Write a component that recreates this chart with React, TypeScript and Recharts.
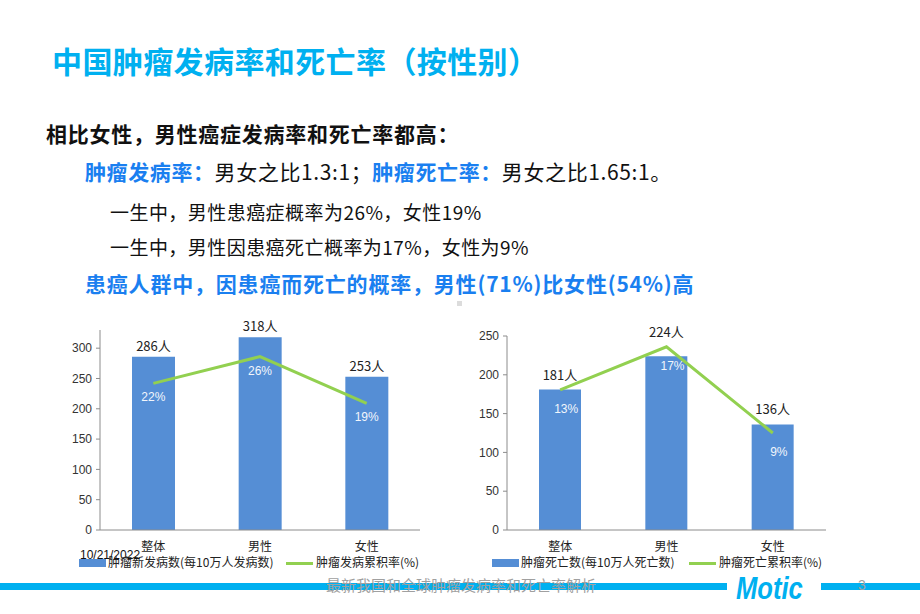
import { ComposedChart, Bar, Line, XAxis, YAxis, LabelList } from "recharts";

const categories = ["整体", "男性", "女性"];
const incidenceCounts = [286, 318, 253];
const incidenceRates = [22, 26, 19];
const deathCounts = [181, 224, 136];
const deathRates = [13, 17, 9];
const incidenceTicks = [0, 50, 100, 150, 200, 250, 300];
const deathTicks = [0, 50, 100, 150, 200, 250];

const CYAN = "#00b0f0";
const BLUE = "#1a7ff0";
const BAR = "#558ed5";
const GREEN = "#92d050";
const LATIN = '"Liberation Sans", "Noto Sans CJK SC", sans-serif';
const CJK = '"Noto Sans CJK SC", "Liberation Sans", sans-serif';

interface Row {
  name: string;
  count: number;
  rate: number;
}

const incidenceData: Row[] = categories.map((name, i) => ({
  name,
  count: incidenceCounts[i],
  rate: incidenceRates[i],
}));
const deathData: Row[] = categories.map((name, i) => ({
  name,
  count: deathCounts[i],
  rate: deathRates[i],
}));

interface ChartProps {
  data: Row[];
  countMax: number;
  rateMax: number;
  ticks: number[];
  barSize: number;
  width: number;
  height: number;
  margin: { top: number; right: number; bottom: number; left: number };
  labelGap: number;
  rateDx: number;
  rateDy: number;
}

const SexChart = ({ data, countMax, rateMax, ticks, barSize, width, height, margin, labelGap, rateDx, rateDy }: ChartProps) => {
  // count label sits above whichever is higher: the bar top or the line point
  const countLabel = (props: any) => {
    const { x, y, width: w, height: h, value, index } = props;
    const perUnit = h / value;
    const lineY = y + h - data[index].rate * (countMax / rateMax) * perUnit;
    const top = Math.min(y, lineY);
    return (
      <text x={x + w / 2} y={top - labelGap} textAnchor="middle" fontSize={13} fill="#222" fontFamily={CJK}>
        {value}人
      </text>
    );
  };

  const rateLabel = (props: any) => {
    const { x, y, value } = props;
    return (
      <text x={x + rateDx} y={y + rateDy} textAnchor="middle" fontSize={12} fill="#f2f6fc" fontFamily={LATIN}>
        {value}%
      </text>
    );
  };

  return (
    <ComposedChart width={width} height={height} data={data} margin={margin}>
      <XAxis
        dataKey="name"
        tickLine={false}
        tickSize={0}
        tickMargin={12}
        height={24}
        axisLine={{ stroke: "#8c8c8c" }}
        tick={{ fontSize: 12, fill: "#222", fontFamily: CJK }}
      />
      <YAxis
        yAxisId="count"
        domain={[0, countMax]}
        ticks={ticks}
        width={40}
        tickSize={4}
        tickMargin={4}
        axisLine={{ stroke: "#8c8c8c" }}
        tickLine={{ stroke: "#8c8c8c" }}
        tick={{ fontSize: 12, fill: "#333", fontFamily: LATIN }}
      />
      <YAxis yAxisId="rate" orientation="right" domain={[0, rateMax]} hide />
      <Bar yAxisId="count" dataKey="count" fill={BAR} barSize={barSize} isAnimationActive={false}>
        <LabelList dataKey="count" content={countLabel} />
      </Bar>
      <Line
        yAxisId="rate"
        dataKey="rate"
        stroke={GREEN}
        strokeWidth={3}
        dot={false}
        activeDot={false}
        isAnimationActive={false}
      >
        <LabelList dataKey="rate" content={rateLabel} />
      </Line>
    </ComposedChart>
  );
};

const LegendRow = ({ left, top, barText, lineText, lineLeft }: { left: number; top: number; barText: string; lineText: string; lineLeft: number }) => (
  <>
    <div style={{ position: "absolute", left, top: top + 1, width: 27, height: 8, background: BAR }} />
    <div style={{ position: "absolute", left: left + 29, top: top - 3, fontSize: 12, lineHeight: "14px", color: "#222", fontFamily: CJK, whiteSpace: "nowrap" }}>
      {barText}
    </div>
    <div style={{ position: "absolute", left: lineLeft, top: top + 4, width: 27, height: 3, background: GREEN }} />
    <div style={{ position: "absolute", left: lineLeft + 30, top: top - 3, fontSize: 12, lineHeight: "14px", color: "#222", fontFamily: CJK, whiteSpace: "nowrap" }}>
      {lineText}
    </div>
  </>
);

const line = (top: number, left: number, size: number, extra: any = {}) => ({
  position: "absolute" as const,
  left,
  top,
  fontSize: size,
  lineHeight: `${size}px`,
  whiteSpace: "nowrap" as const,
  fontFamily: CJK,
  color: "#111",
  ...extra,
});

export default function App() {
  return (
    <div style={{ position: "absolute", left: 0, top: 0, width: 920, height: 614, background: "#fff", overflow: "hidden" }}>
      <div style={line(45, 52, 30, { color: CYAN, fontWeight: 700, letterSpacing: 0.4 })}>中国肿瘤发病率和死亡率（按性别）</div>
      <div style={line(123, 46, 21, { fontWeight: 700, letterSpacing: 0.75 })}>相比女性，男性癌症发病率和死亡率都高：</div>
      <div style={line(161, 85, 21, { letterSpacing: 0.6 })}>
        <span style={{ color: BLUE, fontWeight: 700 }}>肿瘤发病率：</span>
        男女之比1.3:1；
        <span style={{ color: BLUE, fontWeight: 700 }}>肿瘤死亡率：</span>
        男女之比1.65:1。
      </div>
      <div style={line(202, 110, 19, { letterSpacing: 0.45 })}>一生中，男性患癌症概率为26%，女性19%</div>
      <div style={line(237, 110, 19, { letterSpacing: 0.45 })}>一生中，男性因患癌死亡概率为17%，女性为9%</div>
      <div style={line(273, 85, 21, { color: BLUE, fontWeight: 700, letterSpacing: 0.8 })}>患癌人群中，因患癌而死亡的概率，男性(71%)比女性(54%)高</div>
      <div style={{ position: "absolute", left: 457, top: 301, width: 5, height: 5, background: "#dcdcdc" }} />

      <div style={{ position: "absolute", left: 0, top: 310 }}>
        <SexChart
          data={incidenceData}
          countMax={330}
          rateMax={30}
          ticks={incidenceTicks}
          barSize={43}
          width={440}
          height={250}
          margin={{ top: 20, right: 20, bottom: 6, left: 60 }}
          labelGap={6}
          rateDx={0}
          rateDy={18}
        />
      </div>
      <div style={{ position: "absolute", left: 440, top: 310 }}>
        <SexChart
          data={deathData}
          countMax={250}
          rateMax={18}
          ticks={deathTicks}
          barSize={42}
          width={406}
          height={250}
          margin={{ top: 26, right: 20, bottom: 6, left: 27 }}
          labelGap={10}
          rateDx={6}
          rateDy={23}
        />
      </div>

      <LegendRow left={79} top={558} barText="肿瘤新发病数(每10万人发病数)" lineText="肿瘤发病累积率(%)" lineLeft={286} />
      <LegendRow left={492} top={558} barText="肿瘤死亡数(每10万人死亡数)" lineText="肿瘤死亡累积率(%)" lineLeft={689} />
      <div style={{ position: "absolute", left: 80, top: 548, fontSize: 12, lineHeight: "14px", fontFamily: LATIN, color: "#111" }}>10/21/2022</div>

      <div style={{ position: "absolute", left: 0, top: 583, width: 727, height: 7, background: CYAN }} />
      <div style={{ position: "absolute", left: 821, top: 583, width: 99, height: 7, background: CYAN }} />
      <div style={{ position: "absolute", left: 326, top: 576, fontSize: 15, lineHeight: "18px", color: "#a0a0a0", fontFamily: CJK, whiteSpace: "nowrap" }}>
        最新我国和全球肿瘤发病率和死亡率解析
      </div>
      <div
        style={{
          position: "absolute",
          left: 736,
          top: 573,
          fontSize: 32,
          lineHeight: "30px",
          fontFamily: LATIN,
          fontWeight: 700,
          fontStyle: "italic",
          color: CYAN,
          transform: "scaleX(0.8)",
          transformOrigin: "left top",
        }}
      >
        Motic
      </div>
      <div style={{ position: "absolute", left: 858, top: 577, fontSize: 14, lineHeight: "16px", color: "#a0a0a0", fontFamily: LATIN }}>3</div>
    </div>
  );
}
